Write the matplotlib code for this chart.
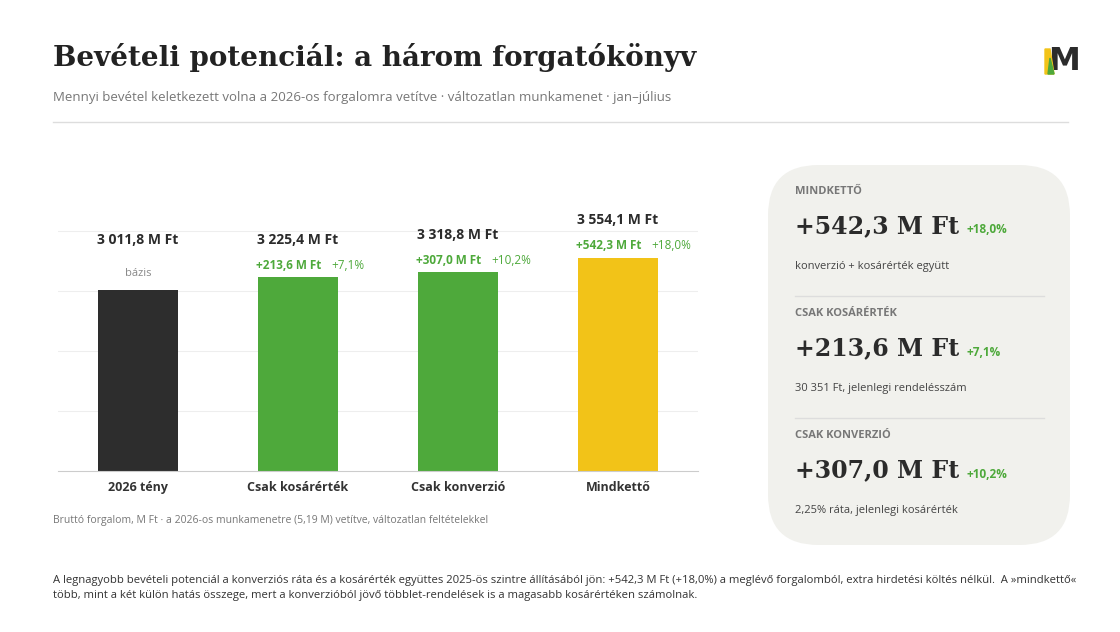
import matplotlib.pyplot as plt
from matplotlib.patches import FancyBboxPatch, Polygon

categories = ["2026 tény", "Csak kosárérték", "Csak konverzió", "Mindkettő"]
values = [3011.8, 3225.4, 3318.8, 3554.1]
deltas = [None, 213.6, 307.0, 542.3]
pcts = [None, 7.1, 10.2, 18.0]
colors = ["#2d2d2d", "#4ea93b", "#4ea93b", "#f2c318"]

cards = [("MINDKETTŐ", "+542,3 M Ft", "+18,0%", "konverzió + kosárérték együtt"),
         ("CSAK KOSÁRÉRTÉK", "+213,6 M Ft", "+7,1%", "30 351 Ft, jelenlegi rendelésszám"),
         ("CSAK KONVERZIÓ", "+307,0 M Ft", "+10,2%", "2,25% ráta, jelenlegi kosárérték")]

W, H = 1120, 632
GREEN = "#4ea93b"
DARK = "#2b2b2b"
plt.rcParams['font.family'] = ['Open Sans', 'DejaVu Sans']


def hu(v):
    return f"{v:,.1f}".replace(",", " ").replace(".", ",")


fig = plt.figure(figsize=(11.2, 6.32), dpi=100)
fig.patch.set_facecolor("white")


def fx(x):
    return x / W


def fy(y):
    return 1 - y / H


fig.text(fx(53), fy(57), "Bevételi potenciál: a három forgatókönyv", fontsize=20,
         fontweight="bold", family="DejaVu Serif", color="#222", va="center")
fig.text(fx(53), fy(98), "Mennyi bevétel keletkezett volna a 2026-os forgalomra vetítve · változatlan munkamenet · jan–július",
         fontsize=9.5, color="#777", va="center")
fig.add_artist(plt.Line2D([fx(53), fx(1068)], [fy(122), fy(122)], color="#dddddd", lw=1))

# logo
fig.text(fx(1064), fy(62), "M", fontsize=23, fontweight="bold", color=DARK, ha="center", va="center",
         family="DejaVu Sans", zorder=0)
fig.add_artist(Polygon([[fx(1045), fy(74)], [fx(1045), fy(49)], [fx(1050), fy(49)], [fx(1054), fy(74)]],
                       closed=True, color="#f2c318", zorder=1))
fig.add_artist(Polygon([[fx(1048), fy(74)], [fx(1050), fy(58)], [fx(1054), fy(74)]],
                       closed=True, color=GREEN, zorder=1))

ax = fig.add_axes([fx(58), fy(471), fx(640), (471 - 171) / H])
x = range(len(categories))
ax.bar(x, values, width=0.5, color=colors, zorder=2)
ax.set_xlim(-0.5, 3.5)
ax.set_ylim(0, 5000)
ax.set_yticks([1000, 2000, 3000, 4000])
ax.grid(axis="y", color="#eeeeee", lw=0.8, zorder=0)
ax.tick_params(left=False, labelleft=False, bottom=False)
for s in ["top", "right", "left"]:
    ax.spines[s].set_visible(False)
ax.spines["bottom"].set_color("#cccccc")
ax.set_xticks(list(x))
ax.set_xticklabels(categories, fontsize=9, fontweight="bold", color="#333")

for i, v in enumerate(values):
    if deltas[i] is None:
        ax.annotate(f"{hu(v)} M Ft", (i, v), xytext=(0, 33), textcoords="offset points",
                    ha="center", fontsize=10, fontweight="bold", color=DARK)
        ax.annotate("bázis", (i, v), xytext=(0, 10), textcoords="offset points",
                    ha="center", fontsize=8, color="#888")
    else:
        ax.annotate(f"{hu(v)} M Ft", (i, v), xytext=(0, 24), textcoords="offset points",
                    ha="center", fontsize=10, fontweight="bold", color=DARK)
        ax.annotate(f"+{hu(deltas[i])} M Ft", (i, v), xytext=(-7, 6), textcoords="offset points",
                    ha="center", fontsize=8.5, fontweight="bold", color=GREEN)
        ax.annotate(f"+{hu(pcts[i])}%", (i, v), xytext=(24, 6), textcoords="offset points",
                    ha="left", fontsize=8.5, color=GREEN)

fig.text(fx(53), fy(520), "Bruttó forgalom, M Ft · a 2026-os munkamenetre (5,19 M) vetítve, változatlan feltételekkel",
         fontsize=7.5, color="#777", va="center")

# side panel
fig.add_artist(FancyBboxPatch((fx(768), fy(545)), fx(302), (545 - 165) / H,
                              boxstyle="round,pad=0,rounding_size=0.045", transform=fig.transFigure,
                              facecolor="#f1f1ed", edgecolor="none", mutation_aspect=W / H))
fig.canvas.draw()
r = fig.canvas.get_renderer()
for k, (t, big, pct, sub) in enumerate(cards):
    y0 = 191 + k * 122
    fig.text(fx(795), fy(y0), t, fontsize=8, fontweight="bold", color="#777", va="center")
    tb = fig.text(fx(795), fy(y0 + 35), big, fontsize=17, fontweight="bold", color=DARK,
                  va="center", family="DejaVu Serif")
    bb = tb.get_window_extent(r)
    fig.text(bb.x1 / W + 0.007, fy(y0 + 39), pct, fontsize=8.5, fontweight="bold",
             color=GREEN, va="center")
    fig.text(fx(795), fy(y0 + 75), sub, fontsize=8, color="#444", va="center")
    if k < 2:
        fig.add_artist(plt.Line2D([fx(795), fx(1044)], [fy(y0 + 105), fy(y0 + 105)], color="#dddddd", lw=1))

fig.text(fx(53), fy(588), "A legnagyobb bevételi potenciál a konverziós ráta és a kosárérték együttes 2025-ös szintre állításából jön: +542,3 M Ft (+18,0%) a meglévő forgalomból, extra hirdetési költés nélkül.  A »mindkettő«\ntöbb, mint a két külön hatás összege, mert a konverzióból jövő többlet-rendelések is a magasabb kosárértéken számolnak.",
         fontsize=8.1, color="#333", va="center", linespacing=1.5)

fig.savefig("out.png", dpi=100)
